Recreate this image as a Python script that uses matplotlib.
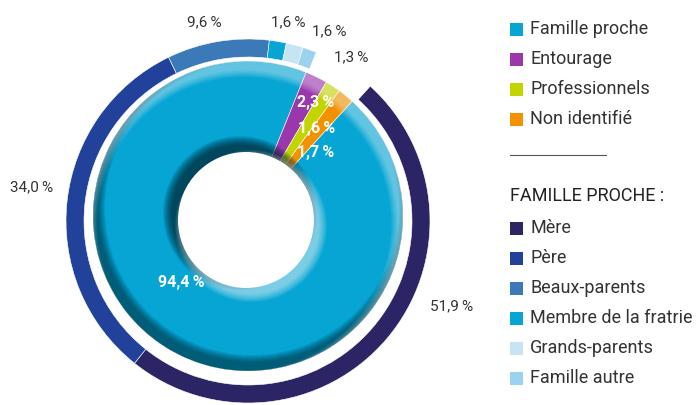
import numpy as np
import matplotlib
matplotlib.use("Agg")
import matplotlib.pyplot as plt
from matplotlib.patches import Circle, Wedge, Rectangle

plt.rcParams['font.family'] = ['Roboto', 'DejaVu Sans']

# inner donut : who
inner_labels = ["Famille proche", "Entourage", "Professionnels", "Non identifié"]
inner_values = [94.4, 2.3, 1.6, 1.7]
inner_colors = ["#06a5d4", "#9b37ad", "#c3d500", "#f39200"]

# outer ring : detail of "famille proche"
outer_labels = ["Mère", "Père", "Beaux-parents", "Membre de la fratrie",
                "Grands-parents", "Famille autre"]
outer_values = [51.9, 34.0, 9.6, 1.6, 1.6, 1.3]
outer_colors = ["#2b2465", "#21419a", "#3b79b9", "#06a5d4", "#c6e4f4", "#9bd3ee"]

W, H = 699, 405
fig = plt.figure(figsize=(W / 100, H / 100), dpi=100)
ax = fig.add_axes([0, 0, 1, 1])

def P(x, y):
    # pixel position (from top-left) -> data coords
    return (x, H - y)

ic = P(248, 216)      # centre of inner donut
R = 155
hc = P(246, 220)      # hole
rh = 68
oc = P(248, 221)      # outer ring
start = 47.8

# inner pie (full disk, hole drawn afterwards)
wedges, _ = ax.pie(inner_values, colors=inner_colors, radius=R, center=ic,
                   startangle=start, counterclock=False,
                   wedgeprops=dict(edgecolor="white", linewidth=0.4))

# outer ring spans the "famille proche" share only
frac = np.array(outer_values) / 100.0 * inner_values[0] / 100.0
ax.pie(frac, colors=outer_colors, radius=182, center=oc, normalize=False,
       startangle=start, counterclock=False,
       wedgeprops=dict(width=18, edgecolor="white", linewidth=0.4))

# bevel shading of the inner donut (dark bottom-left, light top-right)
clip = Circle(ic, R, transform=ax.transData)
for i in range(8):
    w = Wedge((ic[0] + 4, ic[1] + 8), 400, 0, 360, width=400 - (R - 1 - i),
              color="#00222e", alpha=0.09, lw=0)
    ax.add_patch(w)
    w.set_clip_path(clip)
for i in range(8):
    w = Wedge((ic[0] - 4, ic[1] - 8), 400, 0, 360, width=400 - (R - 1 - i),
              color="white", alpha=0.06, lw=0)
    ax.add_patch(w)
    w.set_clip_path(clip)

# shadow / highlight around the hole
for i in range(10):
    c = Circle((hc[0] - 6, hc[1] + 7), rh + i, color="#00202c",
               alpha=0.11, lw=0)
    ax.add_patch(c)
    c.set_clip_path(clip)
for i in range(9):
    c = Circle((hc[0] + 5, hc[1] - 6), rh + i, color="white",
               alpha=0.07, lw=0)
    ax.add_patch(c)
    c.set_clip_path(clip)
ax.add_patch(Circle(hc, rh, color="white", lw=0))

def pct(v):
    return ("%.1f" % v).replace(".", ",") + "\u2009%"

# outer labels
outer_pos = [(452, 306), (32, 187), (204, 22), (288, 22), (329, 31), (351, 57)]
for v, (x, y) in zip(outer_values, outer_pos):
    ax.text(*P(x, y), pct(v), ha="center", va="center", fontsize=11,
            color="#333333")

# inner labels
inner_pos = [(181, 282), (316, 103), (317, 128), (316, 153)]
for v, (x, y) in zip(inner_values, inner_pos):
    ax.text(*P(x, y), pct(v), ha="center", va="center", fontsize=11.5,
            color="white", fontweight="bold")

# legend
def legend_row(y, color, label):
    ax.add_patch(Rectangle(P(510, y + 6.5), 13, 13, color=color, lw=0))
    ax.text(*P(530, y), label, ha="left", va="center", fontsize=13,
            color="#333333")

for k, (lab, col) in enumerate(zip(inner_labels, inner_colors)):
    legend_row(29 + 30 * k, col, lab)
ax.plot([510, 606], [H - 155, H - 155], color="#555555", lw=0.8)
ax.text(*P(510, 196), "FAMILLE PROCHE :", ha="left", va="center",
        fontsize=13, color="#222222")
for k, (lab, col) in enumerate(zip(outer_labels, outer_colors)):
    legend_row(228 + 30 * k, col, lab)

ax.set_xlim(0, W)
ax.set_ylim(0, H)
ax.set_aspect("equal")
ax.axis("off")
fig.savefig("out.png", dpi=100)
